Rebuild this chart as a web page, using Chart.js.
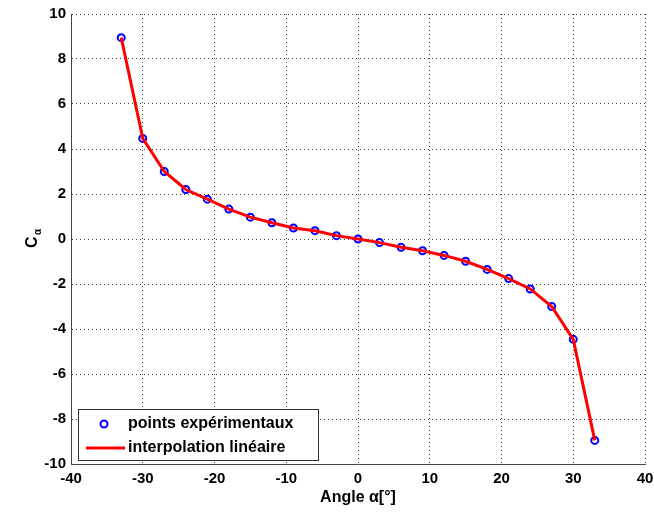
<!DOCTYPE html>
<html>
<head>
<meta charset="utf-8">
<script src="https://cdn.jsdelivr.net/npm/chart.js@4/dist/chart.umd.min.js"></script>
<style>
  html, body { margin: 0; padding: 0; background: #fff; }
  #wrap { width: 654px; height: 515px; }
</style>
</head>
<body>
<div id="wrap"><canvas id="c" width="654" height="515"></canvas></div>
<script>
  // ---------- data ----------
  const angles = [-33, -30, -27, -24, -21, -18, -15, -12, -9, -6, -3, 0, 3, 6, 9, 12, 15, 18, 21, 24, 27, 30, 33];
  const cAlpha = [8.95, 4.47, 3.0, 2.2, 1.77, 1.33, 0.97, 0.72, 0.49, 0.37, 0.15, 0, -0.16, -0.37, -0.52, -0.73, -0.99, -1.35, -1.76, -2.22, -3.0, -4.46, -8.95];
  const xTicks = [-40, -30, -20, -10, 0, 10, 20, 30, 40];
  const yTicks = [-10, -8, -6, -4, -2, 0, 2, 4, 6, 8, 10];
  const labelPoints = "points expérimentaux";
  const labelLine = "interpolation linéaire";

  const FONT = "'Liberation Sans', Arial, sans-serif";
  const BLUE = "#0000ff";
  const RED = "#ff0000";

  const pts = angles.map((a, i) => ({ x: a, y: cAlpha[i] }));

  const gridCfg = { color: "#444", lineWidth: 1, drawTicks: false };
  // v4: border.dash styles the grid lines, the axis line stays solid
  const borderCfg = { color: "#444", width: 1, dash: [1, 3] };

  // legend box + y title drawn by hand (MATLAB-style)
  const extras = {
    id: "extras",
    afterDraw(chart) {
      const ctx = chart.ctx;
      const ds = chart.data.datasets;
      // y title: C with alpha subscript
      ctx.save();
      ctx.translate(31, 242);
      ctx.rotate(-Math.PI / 2);
      ctx.fillStyle = "#000";
      ctx.textBaseline = "alphabetic";
      ctx.textAlign = "left";
      ctx.font = `bold 16px ${FONT}`;
      ctx.fillText("C", -6, 6);
      ctx.font = `bold 10px ${FONT}`;
      ctx.fillText("α", 7, 10);
      ctx.restore();

      // legend
      const L = 78, T = 409, W = 240, H = 51;
      ctx.save();
      ctx.fillStyle = "#fff";
      ctx.fillRect(L, T, W, H);
      ctx.strokeStyle = "#333";
      ctx.lineWidth = 1;
      ctx.strokeRect(L + 0.5, T + 0.5, W, H);

      ctx.strokeStyle = BLUE;
      ctx.lineWidth = 2;
      ctx.beginPath();
      ctx.arc(104, 424, 3.5, 0, Math.PI * 2);
      ctx.stroke();

      ctx.strokeStyle = RED;
      ctx.lineWidth = 3;
      ctx.beginPath();
      ctx.moveTo(86, 448);
      ctx.lineTo(125, 448);
      ctx.stroke();

      ctx.fillStyle = "#000";
      ctx.font = `bold 16px ${FONT}`;
      ctx.textBaseline = "middle";
      ctx.textAlign = "left";
      ctx.fillText(ds[1].label, 128, 424);
      ctx.fillText(ds[0].label, 128, 448);
      ctx.restore();
    },
  };

  new Chart(document.getElementById("c"), {
    type: "scatter",
    data: {
      datasets: [
        {
          label: labelLine,
          data: pts,
          showLine: true,
          borderColor: RED,
          backgroundColor: RED,
          borderWidth: 3,
          pointRadius: 0,
          tension: 0,
          order: 0,
        },
        {
          label: labelPoints,
          data: pts,
          showLine: false,
          borderColor: BLUE,
          backgroundColor: "rgba(0,0,0,0)",
          borderWidth: 2,
          pointRadius: 3.5,
          order: 1,
        },
      ],
    },
    options: {
      responsive: false,
      animation: false,
      layout: { padding: { left: 0, right: 9, top: 14, bottom: 8 } },
      plugins: {
        legend: { display: false },
        tooltip: { enabled: false },
      },
      scales: {
        x: {
          type: "linear",
          min: -40,
          max: 40,
          afterBuildTicks: (s) => { s.ticks = xTicks.map((v) => ({ value: v })); },
          afterFit: (s) => { s.height = 43; s.paddingRight = 0; },
          border: { ...borderCfg },
          grid: { ...gridCfg },
          ticks: {
            color: "#000",
            padding: 6,
            maxRotation: 0,
            font: { family: FONT, size: 15, weight: "bold" },
          },
          title: {
            display: true,
            text: "Angle α[°]",
            color: "#000",
            padding: { top: 2, bottom: 0 },
            font: { family: FONT, size: 16, weight: "bold" },
          },
        },
        y: {
          type: "linear",
          min: -10,
          max: 10,
          afterBuildTicks: (s) => { s.ticks = yTicks.map((v) => ({ value: v })); },
          afterFit: (s) => { s.width = 71; },
          border: { ...borderCfg },
          grid: { ...gridCfg },
          ticks: {
            color: "#000",
            padding: 5,
            font: { family: FONT, size: 15, weight: "bold" },
          },
        },
      },
    },
    plugins: [extras],
  });
</script>
</body>
</html>
